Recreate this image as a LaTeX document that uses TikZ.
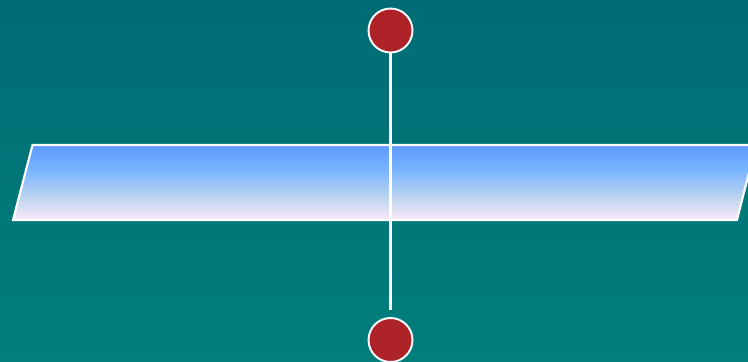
\documentclass[tikz,border=0pt]{standalone}
\usepackage{tikz}

\definecolor{seatop}{RGB}{0,108,117}
\definecolor{seabot}{RGB}{0,127,123}
\definecolor{paneltop}{RGB}{92,152,255}
\definecolor{panelmidA}{RGB}{122,182,255}
\definecolor{panelmidB}{RGB}{190,212,238}
\definecolor{panelbot}{RGB}{250,234,248}
\definecolor{dotred}{RGB}{173,35,40}

\pgfdeclareverticalshading{panelshade}{100bp}{color(0bp)=(panelbot); color(25bp)=(panelbot);
	color(40bp)=(panelmidB); color(58bp)=(panelmidA); color(75bp)=(paneltop); color(100bp)=(paneltop)}

\tikzset{
	dot/.style={circle,draw=white,line width=1.1pt,fill=dotred,minimum size=0.88cm,inner sep=0pt},
	wire/.style={draw=white,line width=1.2pt}
}

\begin{document}
\begin{tikzpicture}[x=0.02cm,y=-0.02cm]
				\useasboundingbox(0,0)rectangle(748,362);
				\clip(0,0)rectangle(748,362);
				\shade[top color=seatop,bottom color=seabot](0,0)rectangle(748,362);
				\shadedraw[shading=panelshade,draw=white,line width=1.2pt](13,220)--(32.5,145)--(756,145)--(737,220)--cycle;
				\node[dot](upper)at(390.5,30.5){};
				\node[dot](lower)at(390.5,340){};
				\coordinate(wireend)at(390.5,310);
				\draw[wire](upper)--(wireend);
			\end{tikzpicture}
\end{document}
